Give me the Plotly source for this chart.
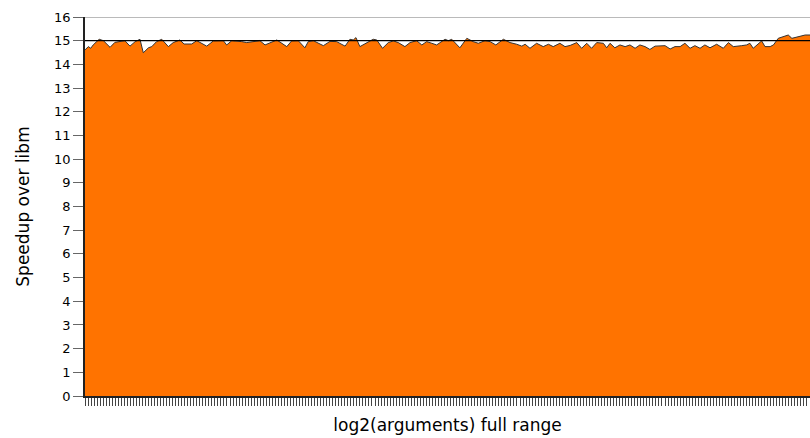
import plotly.graph_objects as go

# log2(argument) position (0..240 spans the full range) and measured speedup
log2_args = [0, 1.1, 1.9, 2.7, 4.7, 6.1, 8.3, 9.9, 13.2, 14.9, 16.6, 18.2, 19.3, 21.0, 22.1,
             23.7, 25.4, 27.6, 29.2, 31.4, 32.8, 35.3, 37.0, 40.3, 42.5, 45.8, 46.9, 48.6,
             51.9, 53.5, 57.9, 59.6, 63.5, 66.8, 68.4, 70.6, 72.8, 73.9, 75.6, 78.9, 81.1,
             83.3, 86.1, 87.7, 88.8, 89.7, 91.0, 93.2, 95.4, 96.6, 98.5, 100.4, 102.1, 103.7,
             105.9, 107.6, 109.8, 111.5, 113.1, 114.8, 116.4, 119.2, 120.3, 121.4, 124.1,
             126.4, 128.5, 130.2, 132.4, 134.1, 136.0, 138.5, 140.7, 142.9, 144.6, 145.7,
             147.3, 149.5, 151.7, 153.4, 155.0, 157.2, 158.9, 160.6, 162.8, 164.4, 166.1,
             167.7, 169.4, 171.6, 172.7, 173.8, 175.4, 177.1, 178.8, 180.4, 182.1, 183.7,
             185.4, 187.0, 188.7, 192.0, 193.7, 195.3, 197.0, 198.6, 200.3, 201.9, 203.6,
             205.2, 206.9, 209.1, 211.3, 213.0, 214.6, 217.4, 219.0, 220.1, 221.2, 224.0,
             225.1, 226.8, 227.9, 229.5, 232.8, 234.0, 236.7, 238.4, 240]
speedup = [14.61, 14.75, 14.68, 14.82, 15.06, 15.00, 14.72, 14.93, 15.00, 14.77, 14.96, 15.06,
           14.49, 14.70, 14.75, 14.96, 15.06, 14.75, 14.92, 15.03, 14.86, 14.86, 15.00, 14.77,
           14.99, 15.00, 14.82, 15.00, 14.96, 14.92, 15.00, 14.82, 15.03, 14.75, 14.99, 15.00,
           14.70, 14.96, 15.00, 14.79, 14.97, 14.96, 14.77, 15.06, 15.03, 15.13, 14.75, 14.92,
           15.06, 15.03, 14.68, 14.92, 14.99, 14.92, 14.75, 14.92, 15.00, 14.82, 14.96, 14.89,
           14.82, 15.06, 15.00, 15.06, 14.70, 15.10, 14.96, 14.89, 15.00, 14.96, 14.82, 15.06,
           14.92, 14.85, 14.77, 14.85, 14.68, 14.89, 14.75, 14.85, 14.75, 14.89, 14.75, 14.80,
           14.92, 14.68, 14.89, 14.68, 14.92, 14.89, 14.70, 14.89, 14.70, 14.82, 14.75, 14.82,
           14.68, 14.82, 14.75, 14.63, 14.77, 14.79, 14.65, 14.75, 14.75, 14.89, 14.68, 14.79,
           14.68, 14.82, 14.70, 14.85, 14.68, 14.92, 14.75, 14.79, 14.82, 14.89, 14.68, 14.99,
           14.75, 14.75, 14.82, 15.10, 15.24, 15.10, 15.17, 15.24, 15.24]
reference_speedup = 15
y_ticks = list(range(0, 17))

fig = go.Figure()
fig.add_trace(go.Scatter(
    x=log2_args, y=speedup, mode="lines", fill="tozeroy",
    fillcolor="#ff7300", line=dict(color="#333333", width=1),
    hoverinfo="skip", showlegend=False))

fig.add_shape(type="line", xref="paper", x0=0, x1=1, yref="y",
              y0=reference_speedup, y1=reference_speedup,
              line=dict(color="#000000", width=1.3), layer="above")
fig.add_shape(type="line", xref="paper", x0=0, x1=1, yref="y",
              y0=16, y1=16, line=dict(color="#777777", width=1), layer="above")

fig.update_layout(
    width=810, height=438,
    margin=dict(l=85, r=0, t=17, b=42, autoexpand=False),
    paper_bgcolor="white", plot_bgcolor="white",
    font=dict(family="DejaVu Sans", size=13, color="#000000"),
    xaxis=dict(range=[0, 240], tickmode="linear", tick0=0, dtick=1,
               ticks="outside", ticklen=8, tickcolor="#444444", tickwidth=1,
               showticklabels=False, showgrid=False, zeroline=False,
               showline=True, linecolor="#222222", linewidth=1.5,
               title=dict(text="log2(arguments) full range", font=dict(size=17), standoff=14)),
    yaxis=dict(range=[0, 16], tickvals=y_ticks, ticks="outside", ticklen=10,
               tickcolor="#666666", tickwidth=1, showgrid=False, zeroline=False,
               showline=True, linecolor="#222222", linewidth=1.5,
               title=dict(text="Speedup over libm", font=dict(size=17), standoff=20)),
)

fig.write_html("out.html", config={"displayModeBar": False},
               post_script="document.body.style.margin='0';document.body.style.overflow='hidden';")
